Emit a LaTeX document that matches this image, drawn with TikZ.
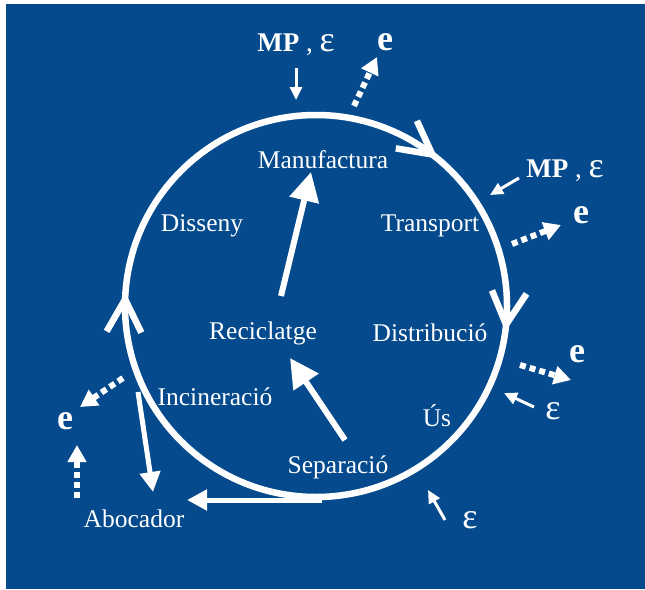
\documentclass[tikz,border=0pt]{standalone}
\usepackage{fontspec}
\setmainfont{Liberation Serif}
\usetikzlibrary{arrows.meta,calc}
\definecolor{bgblue}{RGB}{4,74,141}
\newcommand{\epsbig}{{\fontsize{36}{36}\selectfont ε}}
\begin{document}
\begin{tikzpicture}[x=1pt,y=1pt,
  lbl/.style={text=white,font=\fontsize{25.5}{27}\selectfont,inner sep=0pt},
  mplbl/.style={text=white,font=\fontsize{27}{29}\selectfont,inner sep=0pt},
  elbl/.style={text=white,font=\fontsize{36}{38}\selectfont\bfseries,inner sep=0pt},
  epslbl/.style={text=white,font=\fontsize{36}{38}\selectfont,inner sep=0pt},
  ring/.style={draw=white,line width=6.5pt},
  chev/.style={draw=white,line width=6.5pt,line join=miter,line cap=butt},
  bigarrow/.style={draw=white,line width=6pt,-{Triangle[length=29pt,width=29pt]}},
  flowarrow/.style={draw=white,line width=5pt,-{Triangle[length=20pt,width=20pt]}},
  thinarrow/.style={draw=white,line width=3pt,-{Triangle[length=13pt,width=12pt]}},
  dotarrow/.style={draw=white,line width=6pt,dash pattern=on 6pt off 4pt,-{Triangle[length=17pt,width=18pt]}}
]
\useasboundingbox (0,0) rectangle (645,-589);
\fill[bgblue] (6,-4) rectangle (645,-589);

% main cycle
\coordinate (C) at (316,-306);
\draw[ring] (C) circle[radius=191];
\foreach \a in {52.5,-5.6,178}{
  \draw[chev] ($(C)+(\a:191)$) ++(\a+118:37) -- ++(\a-62:37) -- ++(\a+62:37);
}

% labels
\node[lbl] (manu) at (323,-160) {Manufactura};
\node[lbl] (diss) at (202,-226) {Disseny};
\node[lbl] (trans) at (430,-226) {Transport};
\node[lbl] (recic) at (263,-333) {Reciclatge};
\node[lbl] (distr) at (430,-333) {Distribució};
\node[lbl] (incin) at (215,-397) {Incineració};
\node[lbl] (us) at (437,-416) {Ús};
\node[lbl] (separ) at (338,-467) {Separació};
\node[lbl] (aboc) at (134,-519) {Abocador};

\node[mplbl] (mpTop) at (296,-45) {\textbf{MP} , \epsbig};
\node[mplbl] (mpRight) at (565,-171) {\textbf{MP} , \epsbig};
\node[elbl] (eTop) at (385,-42) {e};
\node[elbl] (eRight) at (581,-215) {e};
\node[elbl] (eDist) at (577,-354) {e};
\node[elbl] (eLeft) at (65,-421) {e};
\node[epslbl] (epsUs) at (553,-411) {ε};
\node[epslbl] (epsSep) at (470,-520) {ε};

% arrow end points
\coordinate (mpTopA) at (296,-68);  \coordinate (mpTopB) at (296,-100);
\coordinate (mpRightA) at (519,-178); \coordinate (mpRightB) at (490,-195);
\coordinate (epsUsA) at (534,-407); \coordinate (epsUsB) at (504,-393);
\coordinate (epsSepA) at (445,-520); \coordinate (epsSepB) at (428,-490);

\coordinate (eTopA) at (354,-106); \coordinate (eTopB) at (377,-57);
\coordinate (eRightA) at (512,-244); \coordinate (eRightB) at (561,-225);
\coordinate (eDistA) at (520,-365); \coordinate (eDistB) at (571,-380);
\coordinate (eLeftA) at (123,-378); \coordinate (eLeftB) at (80,-407);
\coordinate (eAbocA) at (77,-498); \coordinate (eAbocB) at (77,-445);

\coordinate (recicTail) at (281,-296); \coordinate (manuTip) at (311,-172);
\coordinate (separTail) at (345,-440); \coordinate (recicTip) at (290,-358);
\coordinate (incinStart) at (138,-392); \coordinate (abocTip) at (153,-492);
\coordinate (bottomStart) at (322,-500); \coordinate (abocTip2) at (187,-500);

% arrows
\draw[thinarrow] (mpTopA) -- (mpTopB);
\draw[thinarrow] (mpRightA) -- (mpRightB);
\draw[thinarrow] (epsUsA) -- (epsUsB);
\draw[thinarrow] (epsSepA) -- (epsSepB);

\draw[dotarrow] (eTopA) -- (eTopB);
\draw[dotarrow] (eRightA) -- (eRightB);
\draw[dotarrow] (eDistA) -- (eDistB);
\draw[dotarrow] (eLeftA) -- (eLeftB);
\draw[dotarrow] (eAbocA) -- (eAbocB);

\draw[bigarrow] (recicTail) -- (manuTip);
\draw[bigarrow] (separTail) -- (recicTip);
\draw[flowarrow] (incinStart) -- (abocTip);
\draw[flowarrow] (bottomStart) -- (abocTip2);
\end{tikzpicture}
\end{document}
